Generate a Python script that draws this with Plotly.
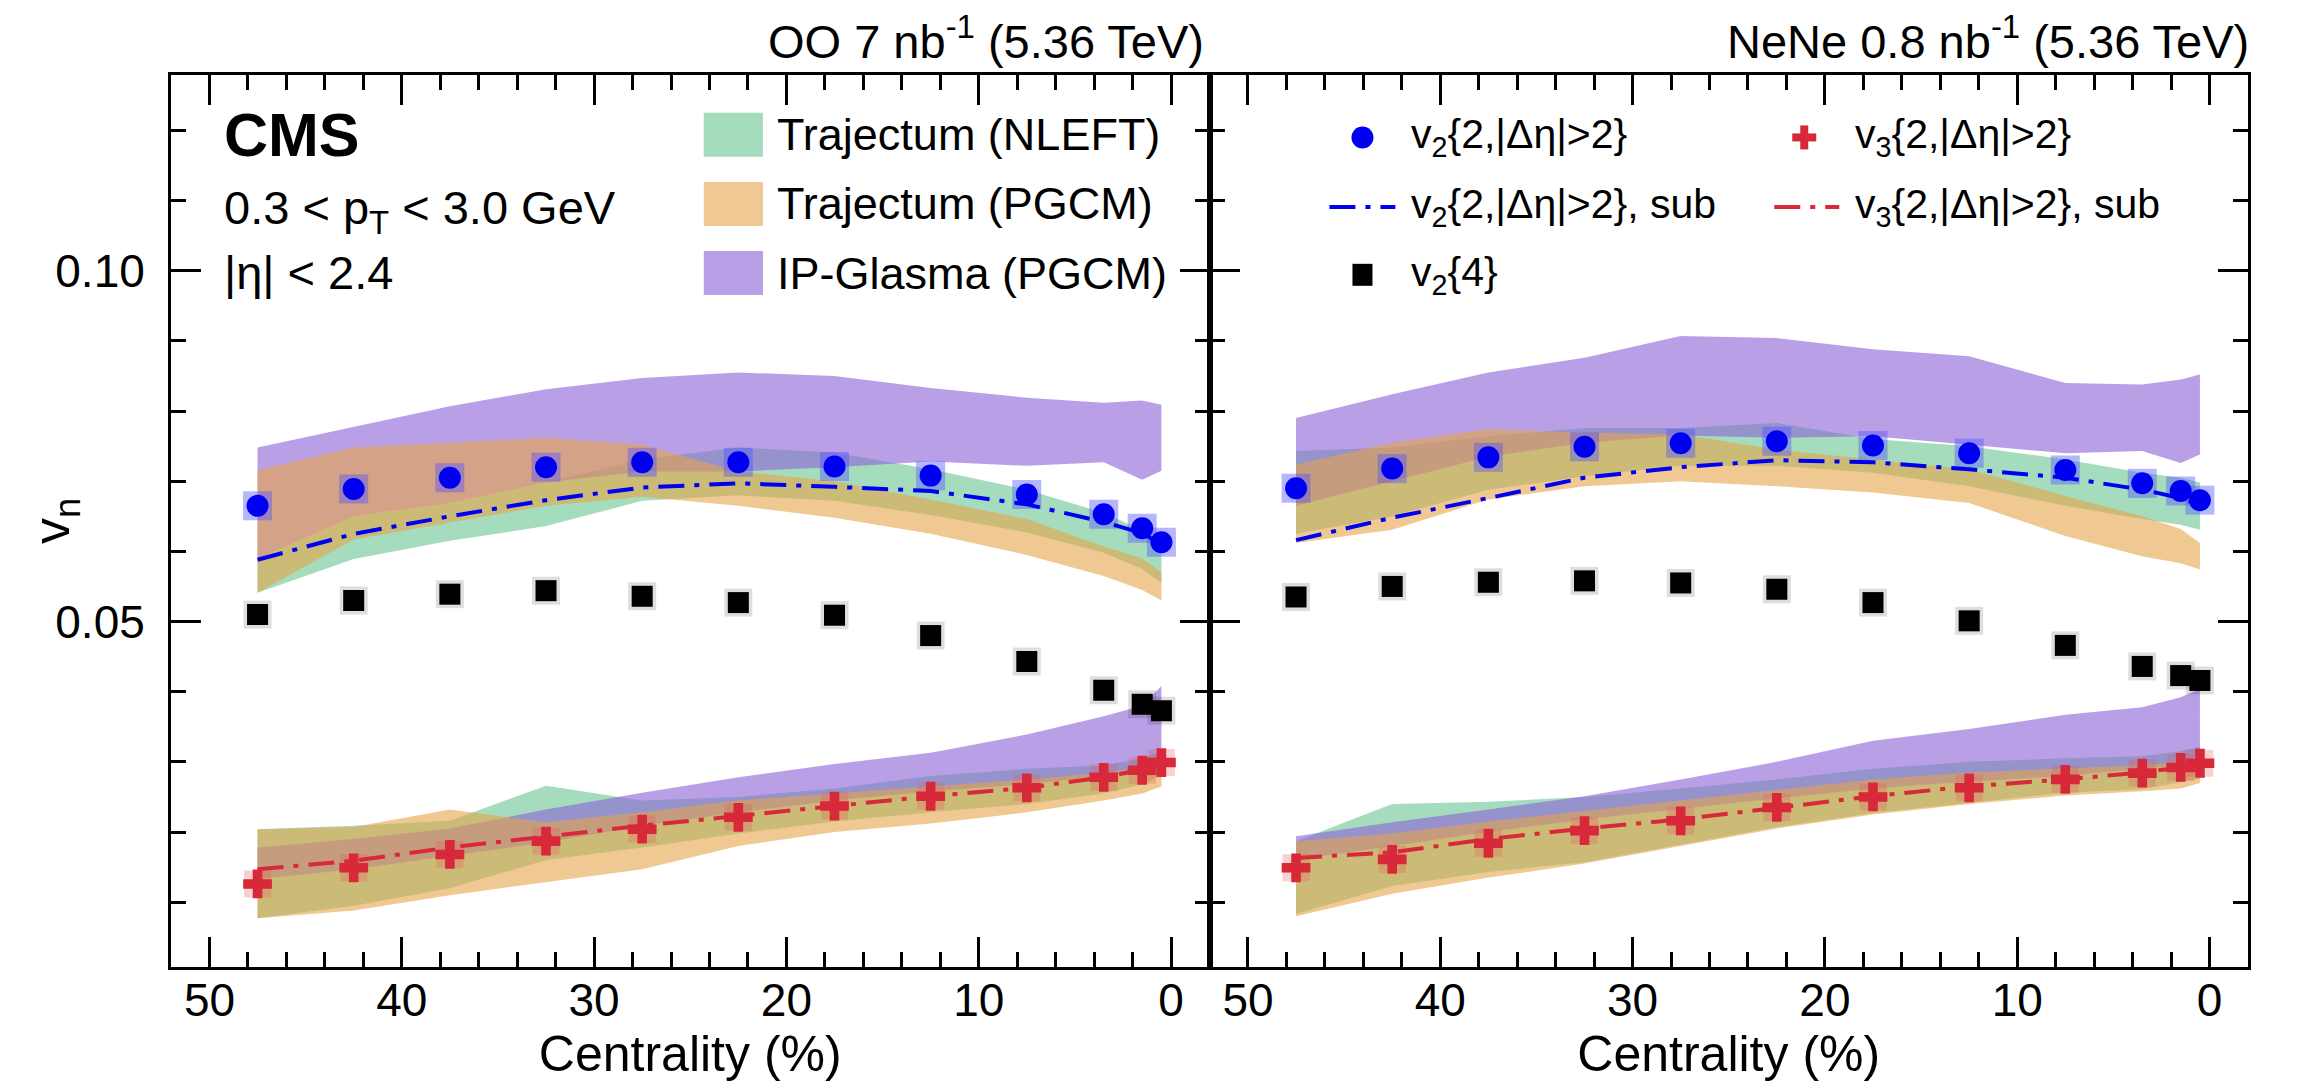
import plotly.graph_objects as go

FONT = "Liberation Sans, Arial, Helvetica, sans-serif"

# ---------------- data ----------------
cent = [47.5, 42.5, 37.5, 32.5, 27.5, 22.5, 17.5, 12.5, 7.5, 3.5, 1.5, 0.5]

# OO 7 nb^-1
oo_v2_2 = [0.0665, 0.0689, 0.0705, 0.0720, 0.0727, 0.0727, 0.0721, 0.0708, 0.0681, 0.0653, 0.0633, 0.0613]
oo_v2_2_sub = [0.0588, 0.0625, 0.0650, 0.0673, 0.0691, 0.0697, 0.0692, 0.0686, 0.0667, 0.0642, 0.0626, 0.0610]
oo_v2_4 = [0.0510, 0.0530, 0.0539, 0.0544, 0.0536, 0.0527, 0.0509, 0.0480, 0.0443, 0.0402, 0.0382, 0.0373]
oo_v3_2 = [0.0126, 0.0149, 0.0168, 0.0187, 0.0204, 0.0221, 0.0237, 0.0251, 0.0263, 0.0278, 0.0288, 0.0299]
oo_v3_2_sub = [0.0147, 0.0159, 0.0178, 0.0194, 0.0209, 0.0223, 0.0237, 0.0251, 0.0263, 0.0278, 0.0289, 0.0299]

oo_nleft_v2_lo = [0.0541, 0.0589, 0.0615, 0.0636, 0.0672, 0.0680, 0.0672, 0.0652, 0.0627, 0.0598, 0.0575, 0.0555]
oo_nleft_v2_hi = [0.0589, 0.0650, 0.0669, 0.0698, 0.0731, 0.0748, 0.0741, 0.0717, 0.0688, 0.0655, 0.0630, 0.0607]
oo_pgcm_v2_lo = [0.0541, 0.0617, 0.0641, 0.0665, 0.0678, 0.0665, 0.0648, 0.0625, 0.0595, 0.0565, 0.0545, 0.0530]
oo_pgcm_v2_hi = [0.0716, 0.0748, 0.0755, 0.0762, 0.0752, 0.0714, 0.0700, 0.0674, 0.0646, 0.0607, 0.0590, 0.0570]
oo_ipg_v2_lo = [0.0589, 0.0650, 0.0669, 0.0698, 0.0714, 0.0714, 0.0720, 0.0728, 0.0722, 0.0727, 0.0702, 0.0715]
oo_ipg_v2_hi = [0.0748, 0.0778, 0.0807, 0.0831, 0.0847, 0.0855, 0.0850, 0.0833, 0.0819, 0.0812, 0.0815, 0.0809]

oo_nleft_v3_lo = [0.0077, 0.0095, 0.0120, 0.0160, 0.0178, 0.0198, 0.0215, 0.0228, 0.0240, 0.0255, 0.0268, 0.0280]
oo_nleft_v3_hi = [0.0204, 0.0209, 0.0216, 0.0266, 0.0245, 0.0250, 0.0262, 0.0280, 0.0290, 0.0295, 0.0305, 0.0315]
oo_pgcm_v3_lo = [0.0077, 0.0088, 0.0110, 0.0128, 0.0147, 0.0180, 0.0200, 0.0212, 0.0228, 0.0245, 0.0255, 0.0265]
oo_pgcm_v3_hi = [0.0204, 0.0207, 0.0232, 0.0214, 0.0228, 0.0245, 0.0255, 0.0265, 0.0275, 0.0285, 0.0292, 0.0300]
oo_ipg_v3_lo = [0.0133, 0.0147, 0.0166, 0.0185, 0.0209, 0.0228, 0.0245, 0.0258, 0.0268, 0.0280, 0.0290, 0.0300]
oo_ipg_v3_hi = [0.0178, 0.0190, 0.0205, 0.0232, 0.0256, 0.0278, 0.0297, 0.0313, 0.0339, 0.0365, 0.0380, 0.0408]

# NeNe 0.8 nb^-1
ne_v2_2 = [0.0690, 0.0718, 0.0734, 0.0749, 0.0754, 0.0757, 0.0751, 0.0740, 0.0716, 0.0697, 0.0686, 0.0673]
ne_v2_2_sub = [0.0616, 0.0648, 0.0676, 0.0705, 0.0720, 0.0730, 0.0727, 0.0717, 0.0705, 0.0688, 0.0676, 0.0666]
ne_v2_4 = [0.0535, 0.0550, 0.0556, 0.0558, 0.0555, 0.0546, 0.0527, 0.0501, 0.0466, 0.0436, 0.0423, 0.0416]
ne_v3_2 = [0.0149, 0.0161, 0.0184, 0.0202, 0.0216, 0.0235, 0.0250, 0.0263, 0.0275, 0.0284, 0.0292, 0.0298]
ne_v3_2_sub = [0.0163, 0.0171, 0.0190, 0.0205, 0.0218, 0.0235, 0.0251, 0.0265, 0.0275, 0.0285, 0.0292, 0.0298]

ne_nleft_v2_lo = [0.0625, 0.0650, 0.0688, 0.0707, 0.0722, 0.0722, 0.0712, 0.0693, 0.0665, 0.0646, 0.0638, 0.0631]
ne_nleft_v2_hi = [0.0743, 0.0748, 0.0764, 0.0776, 0.0776, 0.0783, 0.0760, 0.0750, 0.0731, 0.0712, 0.0705, 0.0698]
ne_pgcm_v2_lo = [0.0612, 0.0631, 0.0674, 0.0693, 0.0700, 0.0693, 0.0684, 0.0669, 0.0622, 0.0593, 0.0583, 0.0574]
ne_pgcm_v2_hi = [0.0724, 0.0755, 0.0774, 0.0769, 0.0767, 0.0745, 0.0731, 0.0717, 0.0679, 0.0650, 0.0632, 0.0612]
ne_ipg_v2_lo = [0.0665, 0.0700, 0.0735, 0.0755, 0.0765, 0.0762, 0.0764, 0.0752, 0.0740, 0.0743, 0.0726, 0.0738]
ne_ipg_v2_hi = [0.0790, 0.0824, 0.0855, 0.0876, 0.0907, 0.0904, 0.0888, 0.0878, 0.0840, 0.0838, 0.0845, 0.0852]

ne_nleft_v3_lo = [0.0083, 0.0123, 0.0143, 0.0157, 0.0182, 0.0207, 0.0227, 0.0241, 0.0256, 0.0261, 0.0271, 0.0276]
ne_nleft_v3_hi = [0.0187, 0.0240, 0.0243, 0.0250, 0.0262, 0.0275, 0.0290, 0.0300, 0.0305, 0.0308, 0.0315, 0.0322]
ne_pgcm_v3_lo = [0.0080, 0.0112, 0.0135, 0.0155, 0.0180, 0.0205, 0.0225, 0.0240, 0.0252, 0.0258, 0.0262, 0.0270]
ne_pgcm_v3_hi = [0.0187, 0.0198, 0.0215, 0.0230, 0.0245, 0.0260, 0.0275, 0.0285, 0.0290, 0.0295, 0.0300, 0.0305]
ne_ipg_v3_lo = [0.0160, 0.0180, 0.0200, 0.0218, 0.0233, 0.0248, 0.0262, 0.0272, 0.0280, 0.0290, 0.0295, 0.0310]
ne_ipg_v3_hi = [0.0194, 0.0214, 0.0232, 0.0251, 0.0275, 0.0300, 0.0330, 0.0347, 0.0367, 0.0378, 0.0392, 0.0404]

panel_labels = ["OO 7 nb<sup>-1</sup> (5.36 TeV)", "NeNe 0.8 nb<sup>-1</sup> (5.36 TeV)"]
model_names = ["Trajectum (NLEFT)", "Trajectum (PGCM)", "IP-Glasma (PGCM)"]

# ---------------- styles ----------------
C_GREEN = "rgba(105,197,147,0.6)"
C_ORANGE = "rgba(230,163,72,0.6)"
C_PURPLE = "rgba(138,97,213,0.6)"
C_BLUE = "#0000F0"
C_RED = "#D8293A"
DASH = "26px,10px,5px,10px"

fig = go.Figure()


def add_band(xa, ya, lo, hi, color, name):
    fig.add_trace(go.Scatter(
        x=cent + cent[::-1], y=hi + lo[::-1], mode="lines", fill="toself",
        fillcolor=color, line=dict(width=0), xaxis=xa, yaxis=ya,
        name=name, showlegend=False, hoverinfo="skip"))


def add_panel(xa, ya, bands, v2, v2sub, v24, v3, v3sub):
    # model bands: green, purple, orange drawn in this order
    for lo, hi, color, name in bands:
        add_band(xa, ya, lo, hi, color, name)
    # systematic boxes
    fig.add_trace(go.Scatter(x=cent, y=v24, mode="markers", xaxis=xa, yaxis=ya,
                             marker=dict(symbol="square", size=28, color="rgba(0,0,0,0.13)"),
                             showlegend=False, hoverinfo="skip"))
    fig.add_trace(go.Scatter(x=cent, y=v2, mode="markers", xaxis=xa, yaxis=ya,
                             marker=dict(symbol="square", size=29, color="rgba(80,80,255,0.42)"),
                             showlegend=False, hoverinfo="skip"))
    fig.add_trace(go.Scatter(x=cent, y=v3, mode="markers", xaxis=xa, yaxis=ya,
                             marker=dict(symbol="square", size=27, color="rgba(230,90,90,0.28)"),
                             showlegend=False, hoverinfo="skip"))
    # subtracted curves
    fig.add_trace(go.Scatter(x=cent, y=v2sub, mode="lines", xaxis=xa, yaxis=ya,
                             line=dict(color=C_BLUE, width=4, dash=DASH),
                             name="v2{2,|Δη|>2}, sub", showlegend=False))
    fig.add_trace(go.Scatter(x=cent, y=v3sub, mode="lines", xaxis=xa, yaxis=ya,
                             line=dict(color=C_RED, width=4, dash=DASH),
                             name="v3{2,|Δη|>2}, sub", showlegend=False))
    # data points
    fig.add_trace(go.Scatter(x=cent, y=v24, mode="markers", xaxis=xa, yaxis=ya,
                             marker=dict(symbol="square", size=21, color="black"),
                             name="v2{4}", showlegend=False))
    fig.add_trace(go.Scatter(x=cent, y=v2, mode="markers", xaxis=xa, yaxis=ya,
                             marker=dict(symbol="circle", size=22, color=C_BLUE),
                             name="v2{2,|Δη|>2}", showlegend=False))
    fig.add_trace(go.Scatter(x=cent, y=v3, mode="markers", xaxis=xa, yaxis=ya,
                             marker=dict(symbol="cross", size=24, color=C_RED),
                             name="v3{2,|Δη|>2}", showlegend=False))


add_panel("x", "y",
          [(oo_nleft_v2_lo, oo_nleft_v2_hi, C_GREEN, model_names[0]),
           (oo_nleft_v3_lo, oo_nleft_v3_hi, C_GREEN, model_names[0]),
           (oo_ipg_v2_lo, oo_ipg_v2_hi, C_PURPLE, model_names[2]),
           (oo_ipg_v3_lo, oo_ipg_v3_hi, C_PURPLE, model_names[2]),
           (oo_pgcm_v2_lo, oo_pgcm_v2_hi, C_ORANGE, model_names[1]),
           (oo_pgcm_v3_lo, oo_pgcm_v3_hi, C_ORANGE, model_names[1])],
          oo_v2_2, oo_v2_2_sub, oo_v2_4, oo_v3_2, oo_v3_2_sub)

add_panel("x2", "y2",
          [(ne_nleft_v2_lo, ne_nleft_v2_hi, C_GREEN, model_names[0]),
           (ne_nleft_v3_lo, ne_nleft_v3_hi, C_GREEN, model_names[0]),
           (ne_ipg_v2_lo, ne_ipg_v2_hi, C_PURPLE, model_names[2]),
           (ne_ipg_v3_lo, ne_ipg_v3_hi, C_PURPLE, model_names[2]),
           (ne_pgcm_v2_lo, ne_pgcm_v2_hi, C_ORANGE, model_names[1]),
           (ne_pgcm_v3_lo, ne_pgcm_v3_hi, C_ORANGE, model_names[1])],
          ne_v2_2, ne_v2_2_sub, ne_v2_4, ne_v3_2, ne_v3_2_sub)

# ---------------- axes ----------------
xcommon = dict(range=[52, -2], tickmode="linear", tick0=0, dtick=10,
               ticks="inside", ticklen=30, tickwidth=3, tickcolor="black",
               minor=dict(tickmode="linear", tick0=0, dtick=2, ticks="inside",
                          ticklen=15, tickwidth=2.5, tickcolor="black"),
               showline=True, linewidth=3, linecolor="black", mirror="allticks",
               showgrid=False, zeroline=False, automargin=False,
               tickfont=dict(family=FONT, size=46, color="black"),
               ticklabelstandoff=-9,
               title=dict(text="Centrality (%)", font=dict(family=FONT, size=50, color="black"),
                          standoff=8))
ycommon = dict(range=[0.00076, 0.1279], tickmode="linear", tick0=0, dtick=0.05,
               tickformat=".2f",
               ticks="inside", ticklen=30, tickwidth=3, tickcolor="black",
               minor=dict(tickmode="linear", tick0=0, dtick=0.01, ticks="inside",
                          ticklen=15, tickwidth=2.5, tickcolor="black"),
               showline=True, linewidth=3, linecolor="black", mirror="allticks",
               showgrid=False, zeroline=False, automargin=False,
               tickfont=dict(family=FONT, size=46, color="black"))

fig.update_layout(
    xaxis=dict(domain=[0, 0.5], anchor="y", **xcommon),
    xaxis2=dict(domain=[0.5, 1], anchor="y2", **xcommon),
    yaxis=dict(anchor="x", ticklabelstandoff=14, **ycommon),
    yaxis2=dict(anchor="x2", matches="y", showticklabels=False, **ycommon),
    width=2321, height=1084,
    margin=dict(l=171, r=73, t=75, b=117),
    paper_bgcolor="white", plot_bgcolor="white",
    font=dict(family=FONT, color="black"),
    showlegend=False,
)

ann = []
shapes = []

# y-axis title
ann.append(dict(text="v<sub>n</sub>", xref="paper", yref="paper", x=-0.0559, y=0.5,
                xanchor="center", yanchor="middle", textangle=-90, showarrow=False,
                font=dict(family=FONT, size=52)))

# panel labels (top right of each panel)
ann.append(dict(text=panel_labels[0], xref="x domain", yref="y domain", x=1, y=1,
                xanchor="right", yanchor="bottom", xshift=-4, yshift=5, showarrow=False,
                font=dict(family=FONT, size=47)))
ann.append(dict(text=panel_labels[1], xref="x2 domain", yref="y2 domain", x=1, y=1,
                xanchor="right", yanchor="bottom", xshift=3, yshift=5, showarrow=False,
                font=dict(family=FONT, size=47)))

# CMS and selection text
TX = 0.0490
ann.append(dict(text="<b>CMS</b>", xref="x domain", yref="y domain", x=TX, y=0.933,
                xanchor="left", yanchor="middle", showarrow=False, font=dict(family=FONT, size=61)))
ann.append(dict(text="0.3 &lt; p<sub>T</sub> &lt; 3.0 GeV", xref="x domain", yref="y domain",
                x=TX, y=0.848, xanchor="left", yanchor="middle", showarrow=False,
                font=dict(family=FONT, size=47)))
ann.append(dict(text="|η| &lt; 2.4", xref="x domain", yref="y domain",
                x=TX, y=0.779, xanchor="left", yanchor="middle", showarrow=False,
                font=dict(family=FONT, size=47)))

# model legend (left panel)
swatch_colors = [C_GREEN, C_ORANGE, C_PURPLE]
legend_rows = [0.933, 0.8555, 0.778]
for name, col, yy in zip(model_names, swatch_colors, legend_rows):
    shapes.append(dict(type="rect", xref="x domain", yref="y domain",
                       x0=0.513, x1=0.570, ysizemode="pixel", yanchor=yy, y0=-22, y1=22,
                       fillcolor=col, line=dict(width=0)))
    ann.append(dict(text=name, xref="x domain", yref="y domain", x=0.582, y=yy,
                    xanchor="left", yanchor="middle", showarrow=False,
                    font=dict(family=FONT, size=45)))

# data legend (right panel)
r1, r2, r3 = 0.930, 0.852, 0.776
shapes.append(dict(type="circle", xref="x2 domain", yref="y2 domain",
                   xsizemode="pixel", xanchor=0.1473, x0=-11, x1=11,
                   ysizemode="pixel", yanchor=r1, y0=-11, y1=11,
                   fillcolor=C_BLUE, line=dict(width=0)))
for (w, h) in [(24, 8), (8, 24)]:
    shapes.append(dict(type="rect", xref="x2 domain", yref="y2 domain",
                       xsizemode="pixel", xanchor=0.5727, x0=-w / 2, x1=w / 2,
                       ysizemode="pixel", yanchor=r1, y0=-h / 2, y1=h / 2,
                       fillcolor=C_RED, line=dict(width=0)))
shapes.append(dict(type="line", xref="x2 domain", yref="y2 domain", x0=0.1155, x1=0.179,
                   y0=r2, y1=r2, line=dict(color=C_BLUE, width=4, dash=DASH)))
shapes.append(dict(type="line", xref="x2 domain", yref="y2 domain", x0=0.5438, x1=0.6064,
                   y0=r2, y1=r2, line=dict(color=C_RED, width=4, dash=DASH)))
shapes.append(dict(type="rect", xref="x2 domain", yref="y2 domain",
                   xsizemode="pixel", xanchor=0.1473, x0=-10, x1=10,
                   ysizemode="pixel", yanchor=r3, y0=-11, y1=11,
                   fillcolor="black", line=dict(width=0)))

leg_texts = [
    ("v<sub>2</sub>{2,|Δη|&gt;2}", 0.1925, r1),
    ("v<sub>3</sub>{2,|Δη|&gt;2}", 0.6198, r1),
    ("v<sub>2</sub>{2,|Δη|&gt;2}, sub", 0.1925, r2),
    ("v<sub>3</sub>{2,|Δη|&gt;2}, sub", 0.6198, r2),
    ("v<sub>2</sub>{4}", 0.1925, r3),
]
for t, xx, yy in leg_texts:
    ann.append(dict(text=t, xref="x2 domain", yref="y2 domain", x=xx, y=yy,
                    xanchor="left", yanchor="middle", showarrow=False,
                    font=dict(family=FONT, size=41)))

fig.update_layout(annotations=ann, shapes=shapes)

fig.write_html("out.html", config={"displayModeBar": False},
               post_script="document.body.style.margin='0';")
